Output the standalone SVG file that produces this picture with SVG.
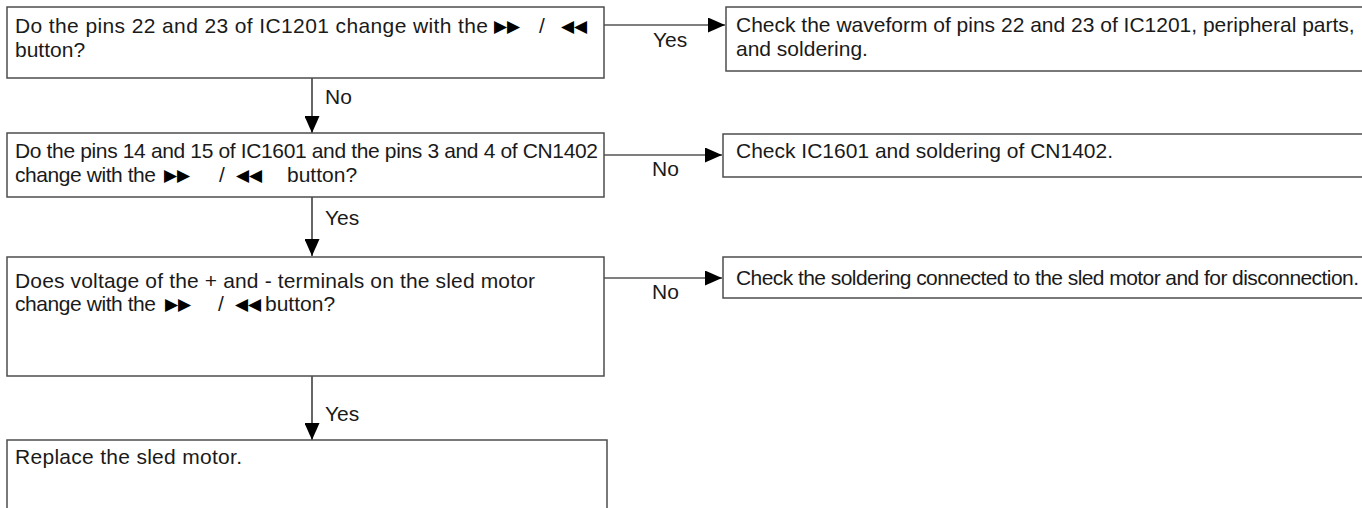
<svg xmlns="http://www.w3.org/2000/svg" width="1362" height="508" viewBox="0 0 1362 508">
  <style>
    .box { fill: #ffffff; stroke: #4d4d4d; stroke-width: 1.5; }
    .t { font-family: "Liberation Sans", Arial, sans-serif; font-size: 21px; fill: #1a1a1a; }
    .sym { font-family: "DejaVu Sans", sans-serif; font-size: 17px; fill: #000000; }
    .lbl { font-family: "Liberation Sans", Arial, sans-serif; font-size: 21px; fill: #1a1a1a; }
    .wire { stroke: #000000; stroke-width: 1.2; fill: none; }
  </style>
  <defs>
    <marker id="arrow" viewBox="0 0 17 15" refX="17" refY="7.5" markerWidth="17" markerHeight="15" markerUnits="userSpaceOnUse" orient="auto">
      <path d="M0,0 L17,7.5 L0,15 Z" fill="#000000"/>
    </marker>
  </defs>
  <rect width="1362" height="508" fill="#ffffff"/>

  <!-- connectors -->
  <g id="connectors">
    <line class="wire" x1="604" y1="25" x2="725" y2="25" marker-end="url(#arrow)"/>
    <text class="lbl" x="653" y="47">Yes</text>
    <line class="wire" x1="312" y1="78" x2="312" y2="133" marker-end="url(#arrow)"/>
    <text class="lbl" x="325" y="104">No</text>
    <line class="wire" x1="604" y1="155" x2="722" y2="155" marker-end="url(#arrow)"/>
    <text class="lbl" x="652" y="176">No</text>
    <line class="wire" x1="312" y1="197" x2="312" y2="256" marker-end="url(#arrow)"/>
    <text class="lbl" x="325" y="225">Yes</text>
    <line class="wire" x1="604" y1="278" x2="722" y2="278" marker-end="url(#arrow)"/>
    <text class="lbl" x="652" y="299">No</text>
    <line class="wire" x1="312" y1="376" x2="312" y2="440" marker-end="url(#arrow)"/>
    <text class="lbl" x="325" y="421">Yes</text>
  </g>

  <!-- question 1 -->
  <g id="q1">
    <rect class="box" x="7" y="7" width="597" height="71"/>
    <text class="t" x="15" y="33" textLength="473" lengthAdjust="spacing">Do the pins 22 and 23 of IC1201 change with the</text>
    <text class="sym" x="494" y="32">▶▶</text>
    <text class="t" x="539" y="33">/</text>
    <text class="sym" x="561" y="32">◀◀</text>
    <text class="t" x="15" y="57">button?</text>
  </g>

  <!-- result 1 -->
  <g id="r1">
    <rect class="box" x="726" y="7" width="700" height="64"/>
    <text class="t" x="736" y="32">Check the waveform of pins 22 and 23 of IC1201, peripheral parts,</text>
    <text class="t" x="736" y="56">and soldering.</text>
  </g>

  <!-- question 2 -->
  <g id="q2">
    <rect class="box" x="7" y="133" width="597" height="64"/>
    <text class="t" x="15" y="158" textLength="583" lengthAdjust="spacing">Do the pins 14 and 15 of IC1601 and the pins 3 and 4 of CN1402</text>
    <text class="t" x="15" y="182" textLength="141" lengthAdjust="spacing">change with the</text>
    <text class="sym" x="164" y="181">▶▶</text>
    <text class="t" x="219" y="182">/</text>
    <text class="sym" x="236" y="181">◀◀</text>
    <text class="t" x="287" y="182">button?</text>
  </g>

  <!-- result 2 -->
  <g id="r2">
    <rect class="box" x="723" y="134" width="700" height="43"/>
    <text class="t" x="736" y="158">Check IC1601 and soldering of CN1402.</text>
  </g>

  <!-- question 3 -->
  <g id="q3">
    <rect class="box" x="7" y="257" width="597" height="119"/>
    <text class="t" x="15" y="288" textLength="520" lengthAdjust="spacing">Does voltage of the + and - terminals on the sled motor</text>
    <text class="t" x="15" y="311" textLength="141" lengthAdjust="spacing">change with the</text>
    <text class="sym" x="165" y="310">▶▶</text>
    <text class="t" x="218" y="311">/</text>
    <text class="sym" x="235" y="310">◀◀</text>
    <text class="t" x="265" y="311">button?</text>
  </g>

  <!-- result 3 -->
  <g id="r3">
    <rect class="box" x="723" y="257" width="700" height="41"/>
    <text class="t" x="736" y="285" textLength="623" lengthAdjust="spacing">Check the soldering connected to the sled motor and for disconnection.</text>
  </g>

  <!-- final action -->
  <g id="a4">
    <rect class="box" x="7" y="440" width="600" height="100"/>
    <text class="t" x="15" y="464" textLength="227" lengthAdjust="spacing">Replace the sled motor.</text>
  </g>
</svg>
